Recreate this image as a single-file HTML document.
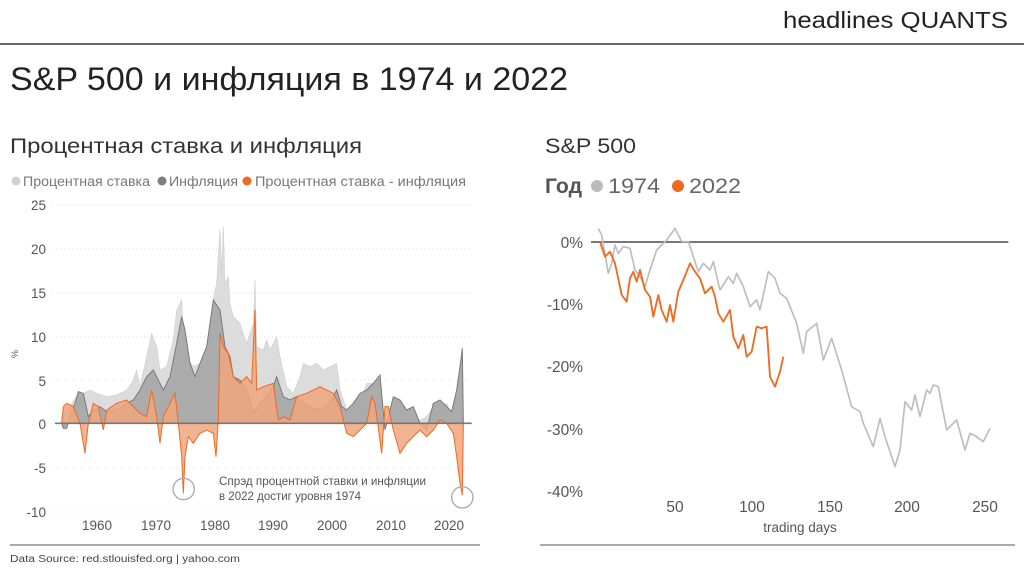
<!DOCTYPE html>
<html><head><meta charset="utf-8"><style>
body{margin:0;width:1024px;height:572px;background:#fff;overflow:hidden;font-family:"Liberation Sans","Noto Sans CJK SC",sans-serif;color:#333}
svg{position:absolute;left:0;top:0}
</style></head><body>
<svg width="1024" height="572" viewBox="0 0 1024 572" font-family="Liberation Sans, Noto Sans CJK SC, sans-serif">
<text x="783" y="28" font-size="23" textLength="225" lengthAdjust="spacingAndGlyphs" fill="#222">headlines QUANTS</text>
<line x1="0" y1="44" x2="1024" y2="44" stroke="#333" stroke-width="1.5"/>
<text x="10" y="90" font-size="32" textLength="558" lengthAdjust="spacingAndGlyphs" fill="#222">S&amp;P 500 и инфляция в 1974 и 2022</text>
<text x="10" y="153" font-size="21" textLength="352" lengthAdjust="spacingAndGlyphs" fill="#333">Процентная ставка и инфляция</text>
<g font-size="13.5" fill="#777">
<circle cx="16" cy="181" r="4.5" fill="#d0d0d0"/><text x="23" y="186" textLength="127" lengthAdjust="spacingAndGlyphs">Процентная ставка</text>
<circle cx="162" cy="181" r="4.5" fill="#808080"/><text x="169" y="186" textLength="69" lengthAdjust="spacingAndGlyphs">Инфляция</text>
<circle cx="247" cy="181" r="4.5" fill="#ED6A22"/><text x="255" y="186" textLength="211" lengthAdjust="spacingAndGlyphs">Процентная ставка - инфляция</text>
</g>
<text x="545" y="153" font-size="21" textLength="91" lengthAdjust="spacingAndGlyphs" fill="#333">S&amp;P 500</text>
<text x="545" y="193" font-size="21" font-weight="bold" textLength="37" lengthAdjust="spacingAndGlyphs" fill="#555">Год</text>
<circle cx="597" cy="186" r="6" fill="#bbb"/><text x="608" y="193" font-size="21" textLength="52" lengthAdjust="spacingAndGlyphs" fill="#666">1974</text>
<circle cx="678" cy="186" r="6" fill="#ED6A22"/><text x="689" y="193" font-size="21" textLength="52" lengthAdjust="spacingAndGlyphs" fill="#666">2022</text>

<!-- left chart -->
<g font-size="13.5" fill="#555" text-anchor="end">
<text x="46" y="210">25</text><text x="46" y="254">20</text><text x="46" y="298">15</text><text x="46" y="342">10</text><text x="46" y="386">5</text><text x="46" y="429">0</text><text x="46" y="473">-5</text><text x="46" y="517">-10</text>
</g>
<g stroke="#ddd" stroke-dasharray="1 3">
<line x1="52" y1="205" x2="470" y2="205"/><line x1="52" y1="249" x2="470" y2="249"/><line x1="52" y1="293" x2="470" y2="293"/><line x1="52" y1="337" x2="470" y2="337"/><line x1="52" y1="380" x2="470" y2="380"/><line x1="52" y1="468" x2="470" y2="468"/><line x1="52" y1="512" x2="470" y2="512"/>
</g>
<text x="18" y="358" font-size="9" fill="#555" transform="rotate(-90 18 358)">%</text>
<g font-size="13.5" fill="#555" text-anchor="middle">
<text x="97" y="530">1960</text><text x="156" y="530">1970</text><text x="215" y="530">1980</text><text x="273" y="530">1990</text><text x="332" y="530">2000</text><text x="391" y="530">2010</text><text x="449" y="530">2020</text>
</g>
<g transform="translate(0,190) scale(0.33333)">
<polygon fill="#dcdcdc" stroke="#d0d0d0" stroke-width="2" points="185,700 185,680 200,660 230,620 250,610 270,600 290,610 320,620 350,615 380,600 400,570 410,540 420,590 440,500 455,430 470,470 480,540 500,530 520,450 530,360 545,330 550,420 560,500 580,530 600,520 620,470 640,330 650,280 660,120 665,250 670,110 675,280 685,260 690,340 700,380 720,400 740,460 760,400 765,270 770,470 790,480 800,450 810,480 830,440 840,500 860,590 880,610 900,560 910,520 930,530 950,520 970,540 990,530 1010,520 1020,600 1040,660 1080,640 1100,580 1120,580 1140,660 1160,695 1250,695 1280,680 1300,650 1340,640 1360,695 1390,660 1390,700"/>
<polygon fill="#ababab" stroke="#7a7a7a" stroke-width="3" points="185,700 190,715 200,715 210,680 225,640 235,605 250,610 265,680 280,660 300,650 320,665 340,660 360,655 380,640 400,630 420,600 440,560 460,540 470,560 490,600 510,560 530,460 545,380 555,420 570,520 585,560 600,520 620,470 640,330 660,360 675,470 690,500 700,560 720,570 740,600 760,670 780,640 800,620 820,590 830,560 840,590 850,620 870,630 890,620 910,640 930,650 960,660 990,640 1010,600 1025,650 1040,660 1060,640 1080,610 1100,600 1120,580 1140,555 1155,720 1165,680 1180,620 1200,630 1220,660 1240,650 1260,700 1280,720 1300,640 1320,630 1340,650 1355,665 1370,600 1380,530 1387,475 1390,700"/>
<polygon fill="#f0a67c" fill-opacity="0.85" stroke="#ED6A22" stroke-width="3" points="185,700 190,650 200,640 220,650 240,700 255,790 265,700 280,640 295,650 310,720 320,660 350,640 380,630 400,650 420,670 440,680 455,600 470,680 480,760 490,680 510,640 525,610 535,700 545,800 550,910 555,800 565,740 580,760 600,730 620,720 640,730 648,800 655,690 660,430 670,470 685,490 700,560 720,580 740,560 755,580 765,360 770,600 790,590 820,580 835,690 850,680 870,690 890,620 920,610 960,590 1000,610 1020,650 1040,730 1060,740 1080,720 1100,700 1115,620 1125,640 1145,790 1155,650 1165,650 1180,720 1200,790 1220,760 1240,740 1260,720 1280,740 1300,720 1320,690 1340,700 1360,730 1370,800 1380,880 1387,915 1390,700"/>
<line x1="165" y1="700" x2="1415" y2="700" stroke="#777" stroke-width="5"/>
<circle cx="551" cy="897" r="32" fill="none" stroke="#aaa" stroke-width="4"/>
<circle cx="1387" cy="922" r="32" fill="none" stroke="#aaa" stroke-width="4"/>
</g>
<text x="219" y="485" font-size="11.5" fill="#555" textLength="207" lengthAdjust="spacingAndGlyphs">Спрэд процентной ставки и инфляции</text>
<text x="219" y="500" font-size="11.5" fill="#555" textLength="142" lengthAdjust="spacingAndGlyphs">в 2022 достиг уровня 1974</text>

<!-- right chart -->
<g font-size="15.5" fill="#555" text-anchor="end">
<text x="583" y="248">0%</text><text x="583" y="310">-10%</text><text x="583" y="372">-20%</text><text x="583" y="435">-30%</text><text x="583" y="497">-40%</text>
</g>
<g font-size="15.5" fill="#555" text-anchor="middle">
<text x="675" y="512">50</text><text x="752" y="512">100</text><text x="830" y="512">150</text><text x="907" y="512">200</text><text x="985" y="512">250</text>
</g>
<text x="800" y="532" font-size="13.5" fill="#555" text-anchor="middle">trading days</text>
<g transform="translate(530,220) scale(0.33333)" fill="none" stroke-linejoin="round">
<line x1="183" y1="66" x2="1435" y2="66" stroke="#777" stroke-width="6"/>
<polyline stroke="#bdbdbd" stroke-width="5" points="205,25 215,45 235,160 245,130 255,75 265,100 280,80 300,85 315,150 330,170 345,200 360,150 380,90 410,60 435,25 455,65 475,65 490,110 505,155 520,130 540,150 550,125 570,210 595,170 610,190 620,160 640,200 660,260 680,240 690,270 715,155 735,175 750,220 770,235 800,310 820,400 830,335 860,310 880,420 905,355 935,450 965,560 990,575 1000,610 1030,680 1050,595 1065,650 1095,740 1110,690 1125,545 1145,570 1155,525 1170,590 1190,510 1200,520 1210,495 1225,500 1250,630 1280,600 1305,690 1320,640 1340,650 1360,665 1380,625"/>
<polyline stroke="#ED6A22" stroke-width="5.5" points="210,65 225,110 240,95 255,130 275,225 290,245 300,175 310,155 320,185 330,150 345,210 360,230 370,290 385,225 395,270 410,305 420,255 430,305 445,215 460,180 480,130 495,155 510,175 525,220 545,200 555,230 565,280 580,305 600,270 610,350 625,385 640,345 650,410 665,395 680,320 695,325 710,320 720,470 735,500 750,455 760,410"/>
</g>

<line x1="10" y1="545" x2="480" y2="545" stroke="#555" stroke-width="1"/>
<line x1="540" y1="545" x2="1015" y2="545" stroke="#555" stroke-width="1"/>
<text x="10" y="562" font-size="10" fill="#444" textLength="230" lengthAdjust="spacingAndGlyphs">Data Source: red.stlouisfed.org | yahoo.com</text>
</svg>
</body></html>
